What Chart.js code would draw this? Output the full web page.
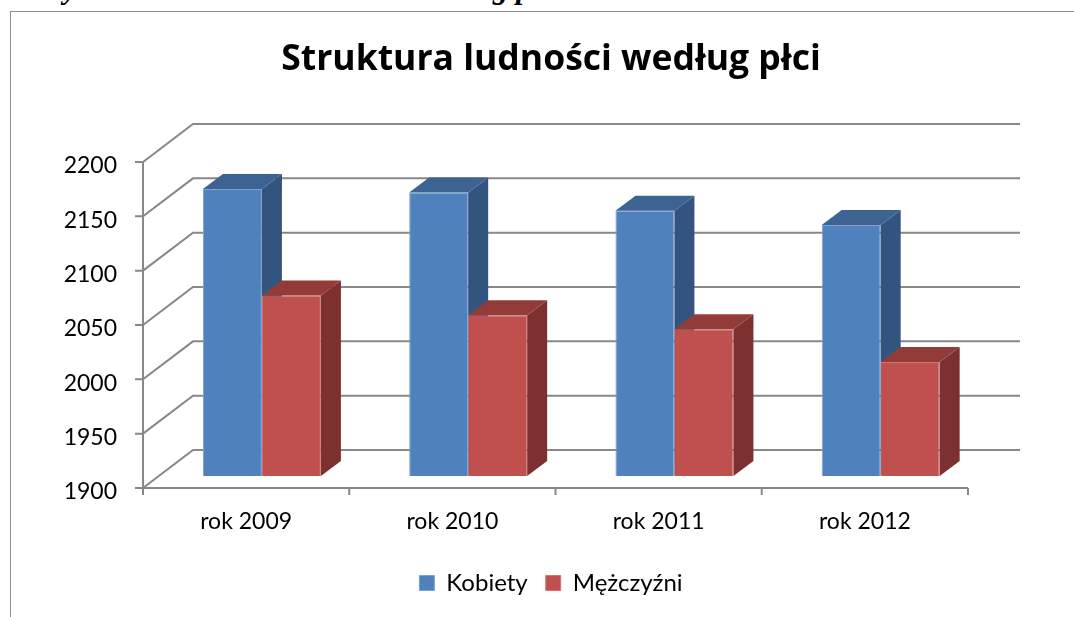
<!DOCTYPE html>
<html lang="pl">
<head>
<meta charset="utf-8">
<title>Struktura ludności według płci</title>
<script src="https://cdn.jsdelivr.net/npm/chart.js@4.4.1/dist/chart.umd.min.js"></script>
<style>
  html, body { margin: 0; padding: 0; background: #fff; overflow: hidden; }
  body { width: 1074px; height: 617px; position: relative; }
  #caption {
    position: absolute; left: 38px; top: -27px;
    font: italic bold 30.5px "Liberation Serif", serif; line-height: 30px;
    letter-spacing: 0.2px; white-space: nowrap; color: #000;
  }
  #box {
    position: absolute; left: 10px; top: 11px; width: 1100px; height: 620px;
    border-left: 1px solid #8c8c8c; border-top: 1px solid #8c8c8c;
  }
  #chart { position: absolute; left: 0; top: 0; }
</style>
</head>
<body>
<div id="caption">Wykres 1. Struktura ludności według płci</div>
<div id="box"><canvas id="chart" width="1080" height="606"></canvas></div>
<script>
const categories = ["rok 2009", "rok 2010", "rok 2011", "rok 2012"];
const kobiety = [2164, 2161, 2144, 2131];
const mezczyzni = [2066, 2048, 2035, 2005];
const yMin = 1900;
const yMax = 2200;
const yStep = 50;

// colours of the three visible faces of every column
const frontColors = ["#4F81BD", "#C0504D"];
const edgeColors = ["#7DA2D3", "#D27572"];
const topColors = ["#3D6392", "#933B39"];
const sideColors = ["#33547F", "#7C3130"];
const GRID = "#888888";

// 3d geometry (px): back wall offset, column shift into the floor, column depth
const WALL = { x: 50, y: -38 };
const SHIFT = { x: 15.8, y: -12 };
const DEPTH = { x: 20, y: -15 };

const threeD = {
    id: "threeD",
    beforeDatasetsDraw(chart) {
        const { ctx, chartArea: a, scales: { x, y } } = chart;
        ctx.save();
        ctx.strokeStyle = GRID;
        ctx.lineWidth = 2;
        ctx.lineJoin = "miter";

        // side wall diagonals + back wall grid lines, with the value ticks
        y.ticks.forEach(t => {
            const py = y.getPixelForValue(t.value);
            ctx.beginPath();
            ctx.moveTo(a.left - 8, py);
            ctx.lineTo(a.left, py);
            ctx.lineTo(a.left + WALL.x, py + WALL.y);
            ctx.lineTo(a.right + WALL.x + 2, py + WALL.y);
            ctx.stroke();
        });

        // front axes
        ctx.beginPath();
        ctx.moveTo(a.left, a.top);
        ctx.lineTo(a.left, a.bottom);
        ctx.lineTo(a.right, a.bottom);
        ctx.stroke();

        // category separators
        const n = x.ticks.length;
        for (let i = 0; i <= n; i++) {
            let px;
            if (i === 0) px = a.left;
            else if (i === n) px = a.right;
            else px = (x.getPixelForTick(i - 1) + x.getPixelForTick(i)) / 2;
            ctx.beginPath();
            ctx.moveTo(px, a.bottom);
            ctx.lineTo(px, a.bottom + 7);
            ctx.stroke();
        }
        ctx.restore();
    },
    beforeDatasetDraw() {
        // columns are drawn below, in series order, with their 3d faces
        return false;
    },
    afterDatasetsDraw(chart) {
        const ctx = chart.ctx;
        chart.data.datasets.forEach((ds, i) => {
            const meta = chart.getDatasetMeta(i);
            ctx.save();
            ctx.translate(SHIFT.x, SHIFT.y);
            meta.data.forEach(bar => {
                bar.draw(ctx);
                const { x, y, base, width } = bar.getProps(["x", "y", "base", "width"], true);
                const l = x - width / 2, r = x + width / 2;

                ctx.fillStyle = sideColors[i];
                ctx.beginPath();
                ctx.moveTo(r, y);
                ctx.lineTo(r + DEPTH.x, y + DEPTH.y);
                ctx.lineTo(r + DEPTH.x, base + DEPTH.y);
                ctx.lineTo(r, base);
                ctx.closePath();
                ctx.fill();

                ctx.fillStyle = topColors[i];
                ctx.beginPath();
                ctx.moveTo(l, y);
                ctx.lineTo(r, y);
                ctx.lineTo(r + DEPTH.x, y + DEPTH.y);
                ctx.lineTo(l + DEPTH.x, y + DEPTH.y);
                ctx.closePath();
                ctx.fill();
            });
            ctx.restore();
        });
    }
};

const barStyle = { borderWidth: 1, barPercentage: 1, categoryPercentage: 0.572, base: yMin, clip: false };

new Chart(document.getElementById("chart"), {
    type: "bar",
    data: {
        labels: categories,
        datasets: [
            Object.assign({ label: "Kobiety", data: kobiety,
                backgroundColor: frontColors[0], borderColor: edgeColors[0] }, barStyle),
            Object.assign({ label: "Mężczyźni", data: mezczyzni,
                backgroundColor: frontColors[1], borderColor: edgeColors[1] }, barStyle)
        ]
    },
    options: {
        responsive: false,
        animation: false,
        devicePixelRatio: 1,
        layout: { padding: { left: 0, right: 0, top: 0, bottom: 13 } },
        plugins: {
            title: {
                display: true,
                text: "Struktura ludności według płci",
                color: "#000",
                font: { family: "Open Sans", size: 35.5, weight: "bold" },
                padding: { top: 27, bottom: 80.4 }
            },
            legend: {
                position: "bottom",
                labels: {
                    color: "#000",
                    font: { family: "Lato", size: 24 },
                    boxWidth: 15,
                    boxHeight: 15,
                    padding: 18
                }
            },
            tooltip: { enabled: false }
        },
        scales: {
            x: {
                grid: { display: false, drawTicks: false },
                border: { display: false },
                ticks: { color: "#000", font: { family: "Lato", size: 23 }, padding: 20 },
                afterFit: s => { s.height = 65; }
            },
            y: {
                min: yMin,
                max: yMax,
                grid: { display: false, drawTicks: false },
                border: { display: false },
                ticks: {
                    stepSize: yStep, color: "#000", font: { family: "Lato", size: 23 }, padding: 26,
                    labelOffset: 4,
                    callback: v => String(v)
                },
                afterFit: s => { s.width = 132; }
            },
            r: {
                type: "linear",
                position: "right",
                grid: { display: false, drawTicks: false },
                border: { display: false },
                ticks: { display: false },
                afterFit: s => { s.width = 123; }
            }
        }
    },
    plugins: [threeD]
});
</script>
</body>
</html>
